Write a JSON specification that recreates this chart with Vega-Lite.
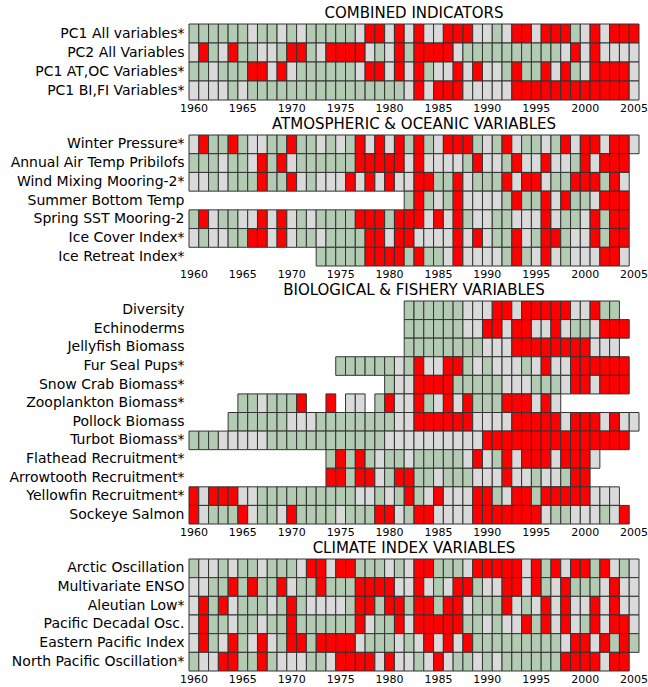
{
"$schema":"https://vega.github.io/schema/vega-lite/v6.json",
"padding":{"left":8,"top":5,"right":0,"bottom":0},
"spacing":3,
"config":{"view":{"stroke":null},"font":"DejaVu Sans",
"axis":{"domain":false,"ticks":false,"grid":false,"title":null,"labelColor":"#000","labelFont":"DejaVu Sans"},
"axisX":{"labelAngle":0,"labelFontSize":11,"labelPadding":2},
"axisY":{"labelFontSize":14,"labelPadding":5},
"title":{"font":"DejaVu Sans","fontSize":15,"fontWeight":"normal","color":"#000","offset":3}},
"datasets":{
"p1":[
{"v":"PC1 All variables*","y":1960,"c":"G"},{"v":"PC1 All variables*","y":1961,"c":"G"},{"v":"PC1 All variables*","y":1962,"c":"G"},{"v":"PC1 All variables*","y":1963,"c":"G"},{"v":"PC1 All variables*","y":1964,"c":"G"},{"v":"PC1 All variables*","y":1965,"c":"G"},{"v":"PC1 All variables*","y":1966,"c":"L"},{"v":"PC1 All variables*","y":1967,"c":"G"},{"v":"PC1 All variables*","y":1968,"c":"G"},{"v":"PC1 All variables*","y":1969,"c":"L"},
{"v":"PC1 All variables*","y":1970,"c":"G"},{"v":"PC1 All variables*","y":1971,"c":"L"},{"v":"PC1 All variables*","y":1972,"c":"G"},{"v":"PC1 All variables*","y":1973,"c":"G"},{"v":"PC1 All variables*","y":1974,"c":"G"},{"v":"PC1 All variables*","y":1975,"c":"G"},{"v":"PC1 All variables*","y":1976,"c":"G"},{"v":"PC1 All variables*","y":1977,"c":"L"},{"v":"PC1 All variables*","y":1978,"c":"R"},{"v":"PC1 All variables*","y":1979,"c":"R"},
{"v":"PC1 All variables*","y":1980,"c":"L"},{"v":"PC1 All variables*","y":1981,"c":"R"},{"v":"PC1 All variables*","y":1982,"c":"L"},{"v":"PC1 All variables*","y":1983,"c":"R"},{"v":"PC1 All variables*","y":1984,"c":"L"},{"v":"PC1 All variables*","y":1985,"c":"L"},{"v":"PC1 All variables*","y":1986,"c":"R"},{"v":"PC1 All variables*","y":1987,"c":"R"},{"v":"PC1 All variables*","y":1988,"c":"R"},{"v":"PC1 All variables*","y":1989,"c":"L"},
{"v":"PC1 All variables*","y":1990,"c":"L"},{"v":"PC1 All variables*","y":1991,"c":"G"},{"v":"PC1 All variables*","y":1992,"c":"L"},{"v":"PC1 All variables*","y":1993,"c":"R"},{"v":"PC1 All variables*","y":1994,"c":"R"},{"v":"PC1 All variables*","y":1995,"c":"L"},{"v":"PC1 All variables*","y":1996,"c":"R"},{"v":"PC1 All variables*","y":1997,"c":"R"},{"v":"PC1 All variables*","y":1998,"c":"R"},{"v":"PC1 All variables*","y":1999,"c":"G"},
{"v":"PC1 All variables*","y":2000,"c":"L"},{"v":"PC1 All variables*","y":2001,"c":"R"},{"v":"PC1 All variables*","y":2002,"c":"L"},{"v":"PC1 All variables*","y":2003,"c":"R"},{"v":"PC1 All variables*","y":2004,"c":"R"},{"v":"PC1 All variables*","y":2005,"c":"R"},
{"v":"PC2 All Variables","y":1960,"c":"L"},{"v":"PC2 All Variables","y":1961,"c":"R"},{"v":"PC2 All Variables","y":1962,"c":"G"},{"v":"PC2 All Variables","y":1963,"c":"L"},{"v":"PC2 All Variables","y":1964,"c":"R"},{"v":"PC2 All Variables","y":1965,"c":"G"},{"v":"PC2 All Variables","y":1966,"c":"G"},{"v":"PC2 All Variables","y":1967,"c":"L"},{"v":"PC2 All Variables","y":1968,"c":"L"},{"v":"PC2 All Variables","y":1969,"c":"G"},
{"v":"PC2 All Variables","y":1970,"c":"R"},{"v":"PC2 All Variables","y":1971,"c":"R"},{"v":"PC2 All Variables","y":1972,"c":"G"},{"v":"PC2 All Variables","y":1973,"c":"L"},{"v":"PC2 All Variables","y":1974,"c":"R"},{"v":"PC2 All Variables","y":1975,"c":"R"},{"v":"PC2 All Variables","y":1976,"c":"R"},{"v":"PC2 All Variables","y":1977,"c":"R"},{"v":"PC2 All Variables","y":1978,"c":"L"},{"v":"PC2 All Variables","y":1979,"c":"G"},
{"v":"PC2 All Variables","y":1980,"c":"L"},{"v":"PC2 All Variables","y":1981,"c":"R"},{"v":"PC2 All Variables","y":1982,"c":"G"},{"v":"PC2 All Variables","y":1983,"c":"R"},{"v":"PC2 All Variables","y":1984,"c":"R"},{"v":"PC2 All Variables","y":1985,"c":"R"},{"v":"PC2 All Variables","y":1986,"c":"R"},{"v":"PC2 All Variables","y":1987,"c":"L"},{"v":"PC2 All Variables","y":1988,"c":"G"},{"v":"PC2 All Variables","y":1989,"c":"G"},
{"v":"PC2 All Variables","y":1990,"c":"G"},{"v":"PC2 All Variables","y":1991,"c":"G"},{"v":"PC2 All Variables","y":1992,"c":"G"},{"v":"PC2 All Variables","y":1993,"c":"G"},{"v":"PC2 All Variables","y":1994,"c":"G"},{"v":"PC2 All Variables","y":1995,"c":"G"},{"v":"PC2 All Variables","y":1996,"c":"G"},{"v":"PC2 All Variables","y":1997,"c":"G"},{"v":"PC2 All Variables","y":1998,"c":"L"},{"v":"PC2 All Variables","y":1999,"c":"R"},
{"v":"PC2 All Variables","y":2000,"c":"L"},{"v":"PC2 All Variables","y":2001,"c":"R"},{"v":"PC2 All Variables","y":2002,"c":"L"},{"v":"PC2 All Variables","y":2003,"c":"L"},{"v":"PC2 All Variables","y":2004,"c":"L"},{"v":"PC2 All Variables","y":2005,"c":"L"},
{"v":"PC1 AT,OC Variables*","y":1960,"c":"G"},{"v":"PC1 AT,OC Variables*","y":1961,"c":"G"},{"v":"PC1 AT,OC Variables*","y":1962,"c":"L"},{"v":"PC1 AT,OC Variables*","y":1963,"c":"G"},{"v":"PC1 AT,OC Variables*","y":1964,"c":"G"},{"v":"PC1 AT,OC Variables*","y":1965,"c":"G"},{"v":"PC1 AT,OC Variables*","y":1966,"c":"R"},{"v":"PC1 AT,OC Variables*","y":1967,"c":"R"},{"v":"PC1 AT,OC Variables*","y":1968,"c":"L"},{"v":"PC1 AT,OC Variables*","y":1969,"c":"R"},
{"v":"PC1 AT,OC Variables*","y":1970,"c":"L"},{"v":"PC1 AT,OC Variables*","y":1971,"c":"G"},{"v":"PC1 AT,OC Variables*","y":1972,"c":"G"},{"v":"PC1 AT,OC Variables*","y":1973,"c":"G"},{"v":"PC1 AT,OC Variables*","y":1974,"c":"G"},{"v":"PC1 AT,OC Variables*","y":1975,"c":"G"},{"v":"PC1 AT,OC Variables*","y":1976,"c":"G"},{"v":"PC1 AT,OC Variables*","y":1977,"c":"L"},{"v":"PC1 AT,OC Variables*","y":1978,"c":"R"},{"v":"PC1 AT,OC Variables*","y":1979,"c":"R"},
{"v":"PC1 AT,OC Variables*","y":1980,"c":"L"},{"v":"PC1 AT,OC Variables*","y":1981,"c":"R"},{"v":"PC1 AT,OC Variables*","y":1982,"c":"L"},{"v":"PC1 AT,OC Variables*","y":1983,"c":"R"},{"v":"PC1 AT,OC Variables*","y":1984,"c":"G"},{"v":"PC1 AT,OC Variables*","y":1985,"c":"L"},{"v":"PC1 AT,OC Variables*","y":1986,"c":"L"},{"v":"PC1 AT,OC Variables*","y":1987,"c":"R"},{"v":"PC1 AT,OC Variables*","y":1988,"c":"L"},{"v":"PC1 AT,OC Variables*","y":1989,"c":"R"},
{"v":"PC1 AT,OC Variables*","y":1990,"c":"L"},{"v":"PC1 AT,OC Variables*","y":1991,"c":"L"},{"v":"PC1 AT,OC Variables*","y":1992,"c":"G"},{"v":"PC1 AT,OC Variables*","y":1993,"c":"R"},{"v":"PC1 AT,OC Variables*","y":1994,"c":"G"},{"v":"PC1 AT,OC Variables*","y":1995,"c":"G"},{"v":"PC1 AT,OC Variables*","y":1996,"c":"R"},{"v":"PC1 AT,OC Variables*","y":1997,"c":"L"},{"v":"PC1 AT,OC Variables*","y":1998,"c":"R"},{"v":"PC1 AT,OC Variables*","y":1999,"c":"G"},
{"v":"PC1 AT,OC Variables*","y":2000,"c":"L"},{"v":"PC1 AT,OC Variables*","y":2001,"c":"R"},{"v":"PC1 AT,OC Variables*","y":2002,"c":"R"},{"v":"PC1 AT,OC Variables*","y":2003,"c":"R"},{"v":"PC1 AT,OC Variables*","y":2004,"c":"R"},{"v":"PC1 AT,OC Variables*","y":2005,"c":"L"},
{"v":"PC1 BI,FI Variables*","y":1960,"c":"L"},{"v":"PC1 BI,FI Variables*","y":1961,"c":"L"},{"v":"PC1 BI,FI Variables*","y":1962,"c":"L"},{"v":"PC1 BI,FI Variables*","y":1963,"c":"L"},{"v":"PC1 BI,FI Variables*","y":1964,"c":"G"},{"v":"PC1 BI,FI Variables*","y":1965,"c":"L"},{"v":"PC1 BI,FI Variables*","y":1966,"c":"G"},{"v":"PC1 BI,FI Variables*","y":1967,"c":"G"},{"v":"PC1 BI,FI Variables*","y":1968,"c":"G"},{"v":"PC1 BI,FI Variables*","y":1969,"c":"G"},
{"v":"PC1 BI,FI Variables*","y":1970,"c":"G"},{"v":"PC1 BI,FI Variables*","y":1971,"c":"G"},{"v":"PC1 BI,FI Variables*","y":1972,"c":"G"},{"v":"PC1 BI,FI Variables*","y":1973,"c":"G"},{"v":"PC1 BI,FI Variables*","y":1974,"c":"G"},{"v":"PC1 BI,FI Variables*","y":1975,"c":"G"},{"v":"PC1 BI,FI Variables*","y":1976,"c":"G"},{"v":"PC1 BI,FI Variables*","y":1977,"c":"G"},{"v":"PC1 BI,FI Variables*","y":1978,"c":"G"},{"v":"PC1 BI,FI Variables*","y":1979,"c":"G"},
{"v":"PC1 BI,FI Variables*","y":1980,"c":"G"},{"v":"PC1 BI,FI Variables*","y":1981,"c":"G"},{"v":"PC1 BI,FI Variables*","y":1982,"c":"L"},{"v":"PC1 BI,FI Variables*","y":1983,"c":"R"},{"v":"PC1 BI,FI Variables*","y":1984,"c":"L"},{"v":"PC1 BI,FI Variables*","y":1985,"c":"R"},{"v":"PC1 BI,FI Variables*","y":1986,"c":"R"},{"v":"PC1 BI,FI Variables*","y":1987,"c":"R"},{"v":"PC1 BI,FI Variables*","y":1988,"c":"L"},{"v":"PC1 BI,FI Variables*","y":1989,"c":"L"},
{"v":"PC1 BI,FI Variables*","y":1990,"c":"L"},{"v":"PC1 BI,FI Variables*","y":1991,"c":"L"},{"v":"PC1 BI,FI Variables*","y":1992,"c":"L"},{"v":"PC1 BI,FI Variables*","y":1993,"c":"R"},{"v":"PC1 BI,FI Variables*","y":1994,"c":"R"},{"v":"PC1 BI,FI Variables*","y":1995,"c":"R"},{"v":"PC1 BI,FI Variables*","y":1996,"c":"R"},{"v":"PC1 BI,FI Variables*","y":1997,"c":"R"},{"v":"PC1 BI,FI Variables*","y":1998,"c":"R"},{"v":"PC1 BI,FI Variables*","y":1999,"c":"R"},
{"v":"PC1 BI,FI Variables*","y":2000,"c":"R"},{"v":"PC1 BI,FI Variables*","y":2001,"c":"R"},{"v":"PC1 BI,FI Variables*","y":2002,"c":"R"},{"v":"PC1 BI,FI Variables*","y":2003,"c":"R"},{"v":"PC1 BI,FI Variables*","y":2004,"c":"R"},{"v":"PC1 BI,FI Variables*","y":2005,"c":"L"}
],
"p2":[
{"v":"Winter Pressure*","y":1960,"c":"L"},{"v":"Winter Pressure*","y":1961,"c":"R"},{"v":"Winter Pressure*","y":1962,"c":"G"},{"v":"Winter Pressure*","y":1963,"c":"G"},{"v":"Winter Pressure*","y":1964,"c":"R"},{"v":"Winter Pressure*","y":1965,"c":"G"},{"v":"Winter Pressure*","y":1966,"c":"L"},{"v":"Winter Pressure*","y":1967,"c":"L"},{"v":"Winter Pressure*","y":1968,"c":"G"},{"v":"Winter Pressure*","y":1969,"c":"G"},
{"v":"Winter Pressure*","y":1970,"c":"R"},{"v":"Winter Pressure*","y":1971,"c":"G"},{"v":"Winter Pressure*","y":1972,"c":"G"},{"v":"Winter Pressure*","y":1973,"c":"L"},{"v":"Winter Pressure*","y":1974,"c":"G"},{"v":"Winter Pressure*","y":1975,"c":"L"},{"v":"Winter Pressure*","y":1976,"c":"G"},{"v":"Winter Pressure*","y":1977,"c":"R"},{"v":"Winter Pressure*","y":1978,"c":"L"},{"v":"Winter Pressure*","y":1979,"c":"R"},
{"v":"Winter Pressure*","y":1980,"c":"L"},{"v":"Winter Pressure*","y":1981,"c":"R"},{"v":"Winter Pressure*","y":1982,"c":"G"},{"v":"Winter Pressure*","y":1983,"c":"R"},{"v":"Winter Pressure*","y":1984,"c":"G"},{"v":"Winter Pressure*","y":1985,"c":"L"},{"v":"Winter Pressure*","y":1986,"c":"R"},{"v":"Winter Pressure*","y":1987,"c":"R"},{"v":"Winter Pressure*","y":1988,"c":"R"},{"v":"Winter Pressure*","y":1989,"c":"G"},
{"v":"Winter Pressure*","y":1990,"c":"L"},{"v":"Winter Pressure*","y":1991,"c":"G"},{"v":"Winter Pressure*","y":1992,"c":"R"},{"v":"Winter Pressure*","y":1993,"c":"L"},{"v":"Winter Pressure*","y":1994,"c":"G"},{"v":"Winter Pressure*","y":1995,"c":"G"},{"v":"Winter Pressure*","y":1996,"c":"L"},{"v":"Winter Pressure*","y":1997,"c":"G"},{"v":"Winter Pressure*","y":1998,"c":"R"},{"v":"Winter Pressure*","y":1999,"c":"L"},
{"v":"Winter Pressure*","y":2000,"c":"R"},{"v":"Winter Pressure*","y":2001,"c":"R"},{"v":"Winter Pressure*","y":2002,"c":"L"},{"v":"Winter Pressure*","y":2003,"c":"R"},{"v":"Winter Pressure*","y":2004,"c":"R"},{"v":"Winter Pressure*","y":2005,"c":"L"},
{"v":"Annual Air Temp Pribilofs","y":1960,"c":"G"},{"v":"Annual Air Temp Pribilofs","y":1961,"c":"G"},{"v":"Annual Air Temp Pribilofs","y":1962,"c":"G"},{"v":"Annual Air Temp Pribilofs","y":1963,"c":"L"},{"v":"Annual Air Temp Pribilofs","y":1964,"c":"G"},{"v":"Annual Air Temp Pribilofs","y":1965,"c":"G"},{"v":"Annual Air Temp Pribilofs","y":1966,"c":"L"},{"v":"Annual Air Temp Pribilofs","y":1967,"c":"R"},{"v":"Annual Air Temp Pribilofs","y":1968,"c":"G"},{"v":"Annual Air Temp Pribilofs","y":1969,"c":"R"},
{"v":"Annual Air Temp Pribilofs","y":1970,"c":"L"},{"v":"Annual Air Temp Pribilofs","y":1971,"c":"G"},{"v":"Annual Air Temp Pribilofs","y":1972,"c":"G"},{"v":"Annual Air Temp Pribilofs","y":1973,"c":"G"},{"v":"Annual Air Temp Pribilofs","y":1974,"c":"G"},{"v":"Annual Air Temp Pribilofs","y":1975,"c":"G"},{"v":"Annual Air Temp Pribilofs","y":1976,"c":"G"},{"v":"Annual Air Temp Pribilofs","y":1977,"c":"R"},{"v":"Annual Air Temp Pribilofs","y":1978,"c":"R"},{"v":"Annual Air Temp Pribilofs","y":1979,"c":"R"},
{"v":"Annual Air Temp Pribilofs","y":1980,"c":"R"},{"v":"Annual Air Temp Pribilofs","y":1981,"c":"R"},{"v":"Annual Air Temp Pribilofs","y":1982,"c":"L"},{"v":"Annual Air Temp Pribilofs","y":1983,"c":"R"},{"v":"Annual Air Temp Pribilofs","y":1984,"c":"L"},{"v":"Annual Air Temp Pribilofs","y":1985,"c":"L"},{"v":"Annual Air Temp Pribilofs","y":1986,"c":"L"},{"v":"Annual Air Temp Pribilofs","y":1987,"c":"L"},{"v":"Annual Air Temp Pribilofs","y":1988,"c":"G"},{"v":"Annual Air Temp Pribilofs","y":1989,"c":"R"},
{"v":"Annual Air Temp Pribilofs","y":1990,"c":"L"},{"v":"Annual Air Temp Pribilofs","y":1991,"c":"L"},{"v":"Annual Air Temp Pribilofs","y":1992,"c":"G"},{"v":"Annual Air Temp Pribilofs","y":1993,"c":"R"},{"v":"Annual Air Temp Pribilofs","y":1994,"c":"L"},{"v":"Annual Air Temp Pribilofs","y":1995,"c":"L"},{"v":"Annual Air Temp Pribilofs","y":1996,"c":"R"},{"v":"Annual Air Temp Pribilofs","y":1997,"c":"L"},{"v":"Annual Air Temp Pribilofs","y":1998,"c":"L"},{"v":"Annual Air Temp Pribilofs","y":1999,"c":"G"},
{"v":"Annual Air Temp Pribilofs","y":2000,"c":"R"},{"v":"Annual Air Temp Pribilofs","y":2001,"c":"L"},{"v":"Annual Air Temp Pribilofs","y":2002,"c":"R"},{"v":"Annual Air Temp Pribilofs","y":2003,"c":"R"},{"v":"Annual Air Temp Pribilofs","y":2004,"c":"R"},
{"v":"Wind Mixing Mooring-2*","y":1960,"c":"L"},{"v":"Wind Mixing Mooring-2*","y":1961,"c":"L"},{"v":"Wind Mixing Mooring-2*","y":1962,"c":"G"},{"v":"Wind Mixing Mooring-2*","y":1963,"c":"L"},{"v":"Wind Mixing Mooring-2*","y":1964,"c":"G"},{"v":"Wind Mixing Mooring-2*","y":1965,"c":"G"},{"v":"Wind Mixing Mooring-2*","y":1966,"c":"G"},{"v":"Wind Mixing Mooring-2*","y":1967,"c":"R"},{"v":"Wind Mixing Mooring-2*","y":1968,"c":"G"},{"v":"Wind Mixing Mooring-2*","y":1969,"c":"G"},
{"v":"Wind Mixing Mooring-2*","y":1970,"c":"R"},{"v":"Wind Mixing Mooring-2*","y":1971,"c":"L"},{"v":"Wind Mixing Mooring-2*","y":1972,"c":"G"},{"v":"Wind Mixing Mooring-2*","y":1973,"c":"L"},{"v":"Wind Mixing Mooring-2*","y":1974,"c":"L"},{"v":"Wind Mixing Mooring-2*","y":1975,"c":"L"},{"v":"Wind Mixing Mooring-2*","y":1976,"c":"R"},{"v":"Wind Mixing Mooring-2*","y":1977,"c":"L"},{"v":"Wind Mixing Mooring-2*","y":1978,"c":"R"},{"v":"Wind Mixing Mooring-2*","y":1979,"c":"L"},
{"v":"Wind Mixing Mooring-2*","y":1980,"c":"R"},{"v":"Wind Mixing Mooring-2*","y":1981,"c":"L"},{"v":"Wind Mixing Mooring-2*","y":1982,"c":"L"},{"v":"Wind Mixing Mooring-2*","y":1983,"c":"R"},{"v":"Wind Mixing Mooring-2*","y":1984,"c":"R"},{"v":"Wind Mixing Mooring-2*","y":1985,"c":"G"},{"v":"Wind Mixing Mooring-2*","y":1986,"c":"G"},{"v":"Wind Mixing Mooring-2*","y":1987,"c":"R"},{"v":"Wind Mixing Mooring-2*","y":1988,"c":"L"},{"v":"Wind Mixing Mooring-2*","y":1989,"c":"G"},
{"v":"Wind Mixing Mooring-2*","y":1990,"c":"G"},{"v":"Wind Mixing Mooring-2*","y":1991,"c":"G"},{"v":"Wind Mixing Mooring-2*","y":1992,"c":"R"},{"v":"Wind Mixing Mooring-2*","y":1993,"c":"L"},{"v":"Wind Mixing Mooring-2*","y":1994,"c":"R"},{"v":"Wind Mixing Mooring-2*","y":1995,"c":"R"},{"v":"Wind Mixing Mooring-2*","y":1996,"c":"L"},{"v":"Wind Mixing Mooring-2*","y":1997,"c":"G"},{"v":"Wind Mixing Mooring-2*","y":1998,"c":"G"},{"v":"Wind Mixing Mooring-2*","y":1999,"c":"R"},
{"v":"Wind Mixing Mooring-2*","y":2000,"c":"R"},{"v":"Wind Mixing Mooring-2*","y":2001,"c":"R"},{"v":"Wind Mixing Mooring-2*","y":2002,"c":"G"},{"v":"Wind Mixing Mooring-2*","y":2003,"c":"R"},{"v":"Wind Mixing Mooring-2*","y":2004,"c":"L"},
{"v":"Summer Bottom Temp","y":1982,"c":"G"},{"v":"Summer Bottom Temp","y":1983,"c":"R"},{"v":"Summer Bottom Temp","y":1984,"c":"G"},{"v":"Summer Bottom Temp","y":1985,"c":"L"},{"v":"Summer Bottom Temp","y":1986,"c":"G"},{"v":"Summer Bottom Temp","y":1987,"c":"R"},{"v":"Summer Bottom Temp","y":1988,"c":"L"},{"v":"Summer Bottom Temp","y":1989,"c":"L"},
{"v":"Summer Bottom Temp","y":1990,"c":"L"},{"v":"Summer Bottom Temp","y":1991,"c":"L"},{"v":"Summer Bottom Temp","y":1992,"c":"G"},{"v":"Summer Bottom Temp","y":1993,"c":"R"},{"v":"Summer Bottom Temp","y":1994,"c":"G"},{"v":"Summer Bottom Temp","y":1995,"c":"G"},{"v":"Summer Bottom Temp","y":1996,"c":"R"},{"v":"Summer Bottom Temp","y":1997,"c":"L"},{"v":"Summer Bottom Temp","y":1998,"c":"R"},{"v":"Summer Bottom Temp","y":1999,"c":"G"},
{"v":"Summer Bottom Temp","y":2000,"c":"G"},{"v":"Summer Bottom Temp","y":2001,"c":"L"},{"v":"Summer Bottom Temp","y":2002,"c":"R"},{"v":"Summer Bottom Temp","y":2003,"c":"R"},{"v":"Summer Bottom Temp","y":2004,"c":"R"},
{"v":"Spring SST Mooring-2","y":1960,"c":"G"},{"v":"Spring SST Mooring-2","y":1961,"c":"R"},{"v":"Spring SST Mooring-2","y":1962,"c":"L"},{"v":"Spring SST Mooring-2","y":1963,"c":"G"},{"v":"Spring SST Mooring-2","y":1964,"c":"G"},{"v":"Spring SST Mooring-2","y":1965,"c":"L"},{"v":"Spring SST Mooring-2","y":1966,"c":"L"},{"v":"Spring SST Mooring-2","y":1967,"c":"R"},{"v":"Spring SST Mooring-2","y":1968,"c":"L"},{"v":"Spring SST Mooring-2","y":1969,"c":"R"},
{"v":"Spring SST Mooring-2","y":1970,"c":"L"},{"v":"Spring SST Mooring-2","y":1971,"c":"G"},{"v":"Spring SST Mooring-2","y":1972,"c":"L"},{"v":"Spring SST Mooring-2","y":1973,"c":"G"},{"v":"Spring SST Mooring-2","y":1974,"c":"G"},{"v":"Spring SST Mooring-2","y":1975,"c":"G"},{"v":"Spring SST Mooring-2","y":1976,"c":"G"},{"v":"Spring SST Mooring-2","y":1977,"c":"R"},{"v":"Spring SST Mooring-2","y":1978,"c":"R"},{"v":"Spring SST Mooring-2","y":1979,"c":"R"},
{"v":"Spring SST Mooring-2","y":1980,"c":"G"},{"v":"Spring SST Mooring-2","y":1981,"c":"R"},{"v":"Spring SST Mooring-2","y":1982,"c":"R"},{"v":"Spring SST Mooring-2","y":1983,"c":"R"},{"v":"Spring SST Mooring-2","y":1984,"c":"L"},{"v":"Spring SST Mooring-2","y":1985,"c":"R"},{"v":"Spring SST Mooring-2","y":1986,"c":"L"},{"v":"Spring SST Mooring-2","y":1987,"c":"R"},{"v":"Spring SST Mooring-2","y":1988,"c":"G"},{"v":"Spring SST Mooring-2","y":1989,"c":"L"},
{"v":"Spring SST Mooring-2","y":1990,"c":"L"},{"v":"Spring SST Mooring-2","y":1991,"c":"G"},{"v":"Spring SST Mooring-2","y":1992,"c":"G"},{"v":"Spring SST Mooring-2","y":1993,"c":"L"},{"v":"Spring SST Mooring-2","y":1994,"c":"L"},{"v":"Spring SST Mooring-2","y":1995,"c":"L"},{"v":"Spring SST Mooring-2","y":1996,"c":"R"},{"v":"Spring SST Mooring-2","y":1997,"c":"L"},{"v":"Spring SST Mooring-2","y":1998,"c":"G"},{"v":"Spring SST Mooring-2","y":1999,"c":"G"},
{"v":"Spring SST Mooring-2","y":2000,"c":"L"},{"v":"Spring SST Mooring-2","y":2001,"c":"R"},{"v":"Spring SST Mooring-2","y":2002,"c":"G"},{"v":"Spring SST Mooring-2","y":2003,"c":"R"},{"v":"Spring SST Mooring-2","y":2004,"c":"R"},
{"v":"Ice Cover Index*","y":1960,"c":"L"},{"v":"Ice Cover Index*","y":1961,"c":"G"},{"v":"Ice Cover Index*","y":1962,"c":"L"},{"v":"Ice Cover Index*","y":1963,"c":"L"},{"v":"Ice Cover Index*","y":1964,"c":"G"},{"v":"Ice Cover Index*","y":1965,"c":"G"},{"v":"Ice Cover Index*","y":1966,"c":"R"},{"v":"Ice Cover Index*","y":1967,"c":"R"},{"v":"Ice Cover Index*","y":1968,"c":"L"},{"v":"Ice Cover Index*","y":1969,"c":"R"},
{"v":"Ice Cover Index*","y":1970,"c":"L"},{"v":"Ice Cover Index*","y":1971,"c":"G"},{"v":"Ice Cover Index*","y":1972,"c":"G"},{"v":"Ice Cover Index*","y":1973,"c":"L"},{"v":"Ice Cover Index*","y":1974,"c":"G"},{"v":"Ice Cover Index*","y":1975,"c":"G"},{"v":"Ice Cover Index*","y":1976,"c":"G"},{"v":"Ice Cover Index*","y":1977,"c":"G"},{"v":"Ice Cover Index*","y":1978,"c":"R"},{"v":"Ice Cover Index*","y":1979,"c":"R"},
{"v":"Ice Cover Index*","y":1980,"c":"L"},{"v":"Ice Cover Index*","y":1981,"c":"R"},{"v":"Ice Cover Index*","y":1982,"c":"R"},{"v":"Ice Cover Index*","y":1983,"c":"L"},{"v":"Ice Cover Index*","y":1984,"c":"L"},{"v":"Ice Cover Index*","y":1985,"c":"L"},{"v":"Ice Cover Index*","y":1986,"c":"L"},{"v":"Ice Cover Index*","y":1987,"c":"R"},{"v":"Ice Cover Index*","y":1988,"c":"L"},{"v":"Ice Cover Index*","y":1989,"c":"R"},
{"v":"Ice Cover Index*","y":1990,"c":"L"},{"v":"Ice Cover Index*","y":1991,"c":"G"},{"v":"Ice Cover Index*","y":1992,"c":"G"},{"v":"Ice Cover Index*","y":1993,"c":"R"},{"v":"Ice Cover Index*","y":1994,"c":"L"},{"v":"Ice Cover Index*","y":1995,"c":"G"},{"v":"Ice Cover Index*","y":1996,"c":"R"},{"v":"Ice Cover Index*","y":1997,"c":"R"},{"v":"Ice Cover Index*","y":1998,"c":"G"},{"v":"Ice Cover Index*","y":1999,"c":"L"},
{"v":"Ice Cover Index*","y":2000,"c":"L"},{"v":"Ice Cover Index*","y":2001,"c":"R"},{"v":"Ice Cover Index*","y":2002,"c":"G"},{"v":"Ice Cover Index*","y":2003,"c":"R"},{"v":"Ice Cover Index*","y":2004,"c":"R"},
{"v":"Ice Retreat Index*","y":1973,"c":"G"},{"v":"Ice Retreat Index*","y":1974,"c":"G"},{"v":"Ice Retreat Index*","y":1975,"c":"G"},{"v":"Ice Retreat Index*","y":1976,"c":"G"},{"v":"Ice Retreat Index*","y":1977,"c":"G"},{"v":"Ice Retreat Index*","y":1978,"c":"R"},{"v":"Ice Retreat Index*","y":1979,"c":"R"},
{"v":"Ice Retreat Index*","y":1980,"c":"R"},{"v":"Ice Retreat Index*","y":1981,"c":"R"},{"v":"Ice Retreat Index*","y":1982,"c":"G"},{"v":"Ice Retreat Index*","y":1983,"c":"R"},{"v":"Ice Retreat Index*","y":1984,"c":"G"},{"v":"Ice Retreat Index*","y":1985,"c":"G"},{"v":"Ice Retreat Index*","y":1986,"c":"L"},{"v":"Ice Retreat Index*","y":1987,"c":"R"},{"v":"Ice Retreat Index*","y":1988,"c":"L"},{"v":"Ice Retreat Index*","y":1989,"c":"L"},
{"v":"Ice Retreat Index*","y":1990,"c":"L"},{"v":"Ice Retreat Index*","y":1991,"c":"L"},{"v":"Ice Retreat Index*","y":1992,"c":"G"},{"v":"Ice Retreat Index*","y":1993,"c":"R"},{"v":"Ice Retreat Index*","y":1994,"c":"G"},{"v":"Ice Retreat Index*","y":1995,"c":"L"},{"v":"Ice Retreat Index*","y":1996,"c":"R"},{"v":"Ice Retreat Index*","y":1997,"c":"L"},{"v":"Ice Retreat Index*","y":1998,"c":"G"},{"v":"Ice Retreat Index*","y":1999,"c":"L"},
{"v":"Ice Retreat Index*","y":2000,"c":"L"},{"v":"Ice Retreat Index*","y":2001,"c":"L"},{"v":"Ice Retreat Index*","y":2002,"c":"R"},{"v":"Ice Retreat Index*","y":2003,"c":"R"},{"v":"Ice Retreat Index*","y":2004,"c":"L"}
],
"p3":[
{"v":"Diversity","y":1982,"c":"G"},{"v":"Diversity","y":1983,"c":"G"},{"v":"Diversity","y":1984,"c":"G"},{"v":"Diversity","y":1985,"c":"G"},{"v":"Diversity","y":1986,"c":"G"},{"v":"Diversity","y":1987,"c":"G"},{"v":"Diversity","y":1988,"c":"L"},{"v":"Diversity","y":1989,"c":"L"},
{"v":"Diversity","y":1990,"c":"L"},{"v":"Diversity","y":1991,"c":"R"},{"v":"Diversity","y":1992,"c":"R"},{"v":"Diversity","y":1993,"c":"L"},{"v":"Diversity","y":1994,"c":"R"},{"v":"Diversity","y":1995,"c":"R"},{"v":"Diversity","y":1996,"c":"R"},{"v":"Diversity","y":1997,"c":"R"},{"v":"Diversity","y":1998,"c":"R"},{"v":"Diversity","y":1999,"c":"L"},
{"v":"Diversity","y":2000,"c":"L"},{"v":"Diversity","y":2001,"c":"R"},{"v":"Diversity","y":2002,"c":"G"},{"v":"Diversity","y":2003,"c":"G"},
{"v":"Echinoderms","y":1982,"c":"G"},{"v":"Echinoderms","y":1983,"c":"G"},{"v":"Echinoderms","y":1984,"c":"G"},{"v":"Echinoderms","y":1985,"c":"G"},{"v":"Echinoderms","y":1986,"c":"G"},{"v":"Echinoderms","y":1987,"c":"G"},{"v":"Echinoderms","y":1988,"c":"L"},{"v":"Echinoderms","y":1989,"c":"L"},
{"v":"Echinoderms","y":1990,"c":"R"},{"v":"Echinoderms","y":1991,"c":"R"},{"v":"Echinoderms","y":1992,"c":"L"},{"v":"Echinoderms","y":1993,"c":"R"},{"v":"Echinoderms","y":1994,"c":"R"},{"v":"Echinoderms","y":1995,"c":"L"},{"v":"Echinoderms","y":1996,"c":"L"},{"v":"Echinoderms","y":1997,"c":"R"},{"v":"Echinoderms","y":1998,"c":"L"},{"v":"Echinoderms","y":1999,"c":"G"},
{"v":"Echinoderms","y":2000,"c":"G"},{"v":"Echinoderms","y":2001,"c":"L"},{"v":"Echinoderms","y":2002,"c":"R"},{"v":"Echinoderms","y":2003,"c":"R"},{"v":"Echinoderms","y":2004,"c":"R"},
{"v":"Jellyfish Biomass","y":1982,"c":"G"},{"v":"Jellyfish Biomass","y":1983,"c":"G"},{"v":"Jellyfish Biomass","y":1984,"c":"G"},{"v":"Jellyfish Biomass","y":1985,"c":"G"},{"v":"Jellyfish Biomass","y":1986,"c":"G"},{"v":"Jellyfish Biomass","y":1987,"c":"G"},{"v":"Jellyfish Biomass","y":1988,"c":"G"},{"v":"Jellyfish Biomass","y":1989,"c":"G"},
{"v":"Jellyfish Biomass","y":1990,"c":"L"},{"v":"Jellyfish Biomass","y":1991,"c":"L"},{"v":"Jellyfish Biomass","y":1992,"c":"L"},{"v":"Jellyfish Biomass","y":1993,"c":"R"},{"v":"Jellyfish Biomass","y":1994,"c":"R"},{"v":"Jellyfish Biomass","y":1995,"c":"R"},{"v":"Jellyfish Biomass","y":1996,"c":"R"},{"v":"Jellyfish Biomass","y":1997,"c":"R"},{"v":"Jellyfish Biomass","y":1998,"c":"R"},{"v":"Jellyfish Biomass","y":1999,"c":"R"},
{"v":"Jellyfish Biomass","y":2000,"c":"R"},{"v":"Jellyfish Biomass","y":2001,"c":"L"},{"v":"Jellyfish Biomass","y":2002,"c":"L"},{"v":"Jellyfish Biomass","y":2003,"c":"L"},
{"v":"Fur Seal Pups*","y":1975,"c":"G"},{"v":"Fur Seal Pups*","y":1976,"c":"G"},{"v":"Fur Seal Pups*","y":1977,"c":"G"},{"v":"Fur Seal Pups*","y":1978,"c":"G"},{"v":"Fur Seal Pups*","y":1979,"c":"G"},
{"v":"Fur Seal Pups*","y":1980,"c":"G"},{"v":"Fur Seal Pups*","y":1981,"c":"L"},{"v":"Fur Seal Pups*","y":1982,"c":"G"},{"v":"Fur Seal Pups*","y":1983,"c":"R"},{"v":"Fur Seal Pups*","y":1984,"c":"L"},{"v":"Fur Seal Pups*","y":1985,"c":"L"},{"v":"Fur Seal Pups*","y":1986,"c":"R"},{"v":"Fur Seal Pups*","y":1987,"c":"R"},{"v":"Fur Seal Pups*","y":1988,"c":"G"},{"v":"Fur Seal Pups*","y":1989,"c":"L"},
{"v":"Fur Seal Pups*","y":1990,"c":"G"},{"v":"Fur Seal Pups*","y":1991,"c":"L"},{"v":"Fur Seal Pups*","y":1992,"c":"L"},{"v":"Fur Seal Pups*","y":1993,"c":"L"},{"v":"Fur Seal Pups*","y":1994,"c":"G"},{"v":"Fur Seal Pups*","y":1995,"c":"L"},{"v":"Fur Seal Pups*","y":1996,"c":"R"},{"v":"Fur Seal Pups*","y":1997,"c":"L"},{"v":"Fur Seal Pups*","y":1998,"c":"L"},{"v":"Fur Seal Pups*","y":1999,"c":"R"},
{"v":"Fur Seal Pups*","y":2000,"c":"R"},{"v":"Fur Seal Pups*","y":2001,"c":"R"},{"v":"Fur Seal Pups*","y":2002,"c":"R"},{"v":"Fur Seal Pups*","y":2003,"c":"R"},{"v":"Fur Seal Pups*","y":2004,"c":"R"},
{"v":"Snow Crab Biomass*","y":1980,"c":"G"},{"v":"Snow Crab Biomass*","y":1981,"c":"L"},{"v":"Snow Crab Biomass*","y":1982,"c":"L"},{"v":"Snow Crab Biomass*","y":1983,"c":"R"},{"v":"Snow Crab Biomass*","y":1984,"c":"R"},{"v":"Snow Crab Biomass*","y":1985,"c":"R"},{"v":"Snow Crab Biomass*","y":1986,"c":"R"},{"v":"Snow Crab Biomass*","y":1987,"c":"G"},{"v":"Snow Crab Biomass*","y":1988,"c":"G"},{"v":"Snow Crab Biomass*","y":1989,"c":"G"},
{"v":"Snow Crab Biomass*","y":1990,"c":"G"},{"v":"Snow Crab Biomass*","y":1991,"c":"G"},{"v":"Snow Crab Biomass*","y":1992,"c":"L"},{"v":"Snow Crab Biomass*","y":1993,"c":"L"},{"v":"Snow Crab Biomass*","y":1994,"c":"L"},{"v":"Snow Crab Biomass*","y":1995,"c":"G"},{"v":"Snow Crab Biomass*","y":1996,"c":"G"},{"v":"Snow Crab Biomass*","y":1997,"c":"G"},{"v":"Snow Crab Biomass*","y":1998,"c":"L"},{"v":"Snow Crab Biomass*","y":1999,"c":"R"},
{"v":"Snow Crab Biomass*","y":2000,"c":"R"},{"v":"Snow Crab Biomass*","y":2001,"c":"L"},{"v":"Snow Crab Biomass*","y":2002,"c":"R"},{"v":"Snow Crab Biomass*","y":2003,"c":"R"},{"v":"Snow Crab Biomass*","y":2004,"c":"R"},
{"v":"Zooplankton Biomass*","y":1965,"c":"G"},{"v":"Zooplankton Biomass*","y":1966,"c":"G"},{"v":"Zooplankton Biomass*","y":1967,"c":"L"},{"v":"Zooplankton Biomass*","y":1968,"c":"G"},{"v":"Zooplankton Biomass*","y":1969,"c":"G"},{"v":"Zooplankton Biomass*","y":1970,"c":"G"},{"v":"Zooplankton Biomass*","y":1971,"c":"R"},{"v":"Zooplankton Biomass*","y":1974,"c":"R"},{"v":"Zooplankton Biomass*","y":1976,"c":"L"},{"v":"Zooplankton Biomass*","y":1977,"c":"L"},{"v":"Zooplankton Biomass*","y":1979,"c":"G"},
{"v":"Zooplankton Biomass*","y":1980,"c":"R"},{"v":"Zooplankton Biomass*","y":1981,"c":"L"},{"v":"Zooplankton Biomass*","y":1982,"c":"L"},{"v":"Zooplankton Biomass*","y":1983,"c":"R"},{"v":"Zooplankton Biomass*","y":1984,"c":"G"},{"v":"Zooplankton Biomass*","y":1985,"c":"L"},{"v":"Zooplankton Biomass*","y":1986,"c":"R"},{"v":"Zooplankton Biomass*","y":1987,"c":"L"},{"v":"Zooplankton Biomass*","y":1988,"c":"R"},{"v":"Zooplankton Biomass*","y":1989,"c":"G"},
{"v":"Zooplankton Biomass*","y":1990,"c":"G"},{"v":"Zooplankton Biomass*","y":1991,"c":"G"},{"v":"Zooplankton Biomass*","y":1992,"c":"R"},{"v":"Zooplankton Biomass*","y":1993,"c":"R"},{"v":"Zooplankton Biomass*","y":1994,"c":"R"},{"v":"Zooplankton Biomass*","y":1995,"c":"L"},{"v":"Zooplankton Biomass*","y":1996,"c":"R"},{"v":"Zooplankton Biomass*","y":1997,"c":"L"},
{"v":"Pollock Biomass","y":1964,"c":"G"},{"v":"Pollock Biomass","y":1965,"c":"G"},{"v":"Pollock Biomass","y":1966,"c":"G"},{"v":"Pollock Biomass","y":1967,"c":"G"},{"v":"Pollock Biomass","y":1968,"c":"G"},{"v":"Pollock Biomass","y":1969,"c":"G"},
{"v":"Pollock Biomass","y":1970,"c":"L"},{"v":"Pollock Biomass","y":1971,"c":"L"},{"v":"Pollock Biomass","y":1972,"c":"L"},{"v":"Pollock Biomass","y":1973,"c":"G"},{"v":"Pollock Biomass","y":1974,"c":"G"},{"v":"Pollock Biomass","y":1975,"c":"G"},{"v":"Pollock Biomass","y":1976,"c":"G"},{"v":"Pollock Biomass","y":1977,"c":"G"},{"v":"Pollock Biomass","y":1978,"c":"G"},{"v":"Pollock Biomass","y":1979,"c":"G"},
{"v":"Pollock Biomass","y":1980,"c":"G"},{"v":"Pollock Biomass","y":1981,"c":"L"},{"v":"Pollock Biomass","y":1982,"c":"L"},{"v":"Pollock Biomass","y":1983,"c":"R"},{"v":"Pollock Biomass","y":1984,"c":"R"},{"v":"Pollock Biomass","y":1985,"c":"R"},{"v":"Pollock Biomass","y":1986,"c":"R"},{"v":"Pollock Biomass","y":1987,"c":"R"},{"v":"Pollock Biomass","y":1988,"c":"R"},{"v":"Pollock Biomass","y":1989,"c":"L"},
{"v":"Pollock Biomass","y":1990,"c":"L"},{"v":"Pollock Biomass","y":1991,"c":"L"},{"v":"Pollock Biomass","y":1992,"c":"L"},{"v":"Pollock Biomass","y":1993,"c":"R"},{"v":"Pollock Biomass","y":1994,"c":"R"},{"v":"Pollock Biomass","y":1995,"c":"R"},{"v":"Pollock Biomass","y":1996,"c":"R"},{"v":"Pollock Biomass","y":1997,"c":"R"},{"v":"Pollock Biomass","y":1998,"c":"L"},{"v":"Pollock Biomass","y":1999,"c":"R"},
{"v":"Pollock Biomass","y":2000,"c":"R"},{"v":"Pollock Biomass","y":2001,"c":"R"},{"v":"Pollock Biomass","y":2002,"c":"L"},{"v":"Pollock Biomass","y":2003,"c":"R"},{"v":"Pollock Biomass","y":2004,"c":"L"},{"v":"Pollock Biomass","y":2005,"c":"L"},
{"v":"Turbot Biomass*","y":1960,"c":"G"},{"v":"Turbot Biomass*","y":1961,"c":"G"},{"v":"Turbot Biomass*","y":1962,"c":"G"},{"v":"Turbot Biomass*","y":1963,"c":"L"},{"v":"Turbot Biomass*","y":1964,"c":"L"},{"v":"Turbot Biomass*","y":1965,"c":"L"},{"v":"Turbot Biomass*","y":1966,"c":"L"},{"v":"Turbot Biomass*","y":1967,"c":"L"},{"v":"Turbot Biomass*","y":1968,"c":"G"},{"v":"Turbot Biomass*","y":1969,"c":"G"},
{"v":"Turbot Biomass*","y":1970,"c":"G"},{"v":"Turbot Biomass*","y":1971,"c":"G"},{"v":"Turbot Biomass*","y":1972,"c":"G"},{"v":"Turbot Biomass*","y":1973,"c":"G"},{"v":"Turbot Biomass*","y":1974,"c":"G"},{"v":"Turbot Biomass*","y":1975,"c":"G"},{"v":"Turbot Biomass*","y":1976,"c":"G"},{"v":"Turbot Biomass*","y":1977,"c":"G"},{"v":"Turbot Biomass*","y":1978,"c":"G"},{"v":"Turbot Biomass*","y":1979,"c":"G"},
{"v":"Turbot Biomass*","y":1980,"c":"L"},{"v":"Turbot Biomass*","y":1981,"c":"L"},{"v":"Turbot Biomass*","y":1982,"c":"L"},{"v":"Turbot Biomass*","y":1983,"c":"L"},{"v":"Turbot Biomass*","y":1984,"c":"L"},{"v":"Turbot Biomass*","y":1985,"c":"L"},{"v":"Turbot Biomass*","y":1986,"c":"L"},{"v":"Turbot Biomass*","y":1987,"c":"L"},{"v":"Turbot Biomass*","y":1988,"c":"L"},{"v":"Turbot Biomass*","y":1989,"c":"L"},
{"v":"Turbot Biomass*","y":1990,"c":"R"},{"v":"Turbot Biomass*","y":1991,"c":"R"},{"v":"Turbot Biomass*","y":1992,"c":"R"},{"v":"Turbot Biomass*","y":1993,"c":"R"},{"v":"Turbot Biomass*","y":1994,"c":"R"},{"v":"Turbot Biomass*","y":1995,"c":"R"},{"v":"Turbot Biomass*","y":1996,"c":"R"},{"v":"Turbot Biomass*","y":1997,"c":"R"},{"v":"Turbot Biomass*","y":1998,"c":"R"},{"v":"Turbot Biomass*","y":1999,"c":"R"},
{"v":"Turbot Biomass*","y":2000,"c":"R"},{"v":"Turbot Biomass*","y":2001,"c":"R"},{"v":"Turbot Biomass*","y":2002,"c":"R"},{"v":"Turbot Biomass*","y":2003,"c":"R"},{"v":"Turbot Biomass*","y":2004,"c":"R"},
{"v":"Flathead Recruitment*","y":1974,"c":"G"},{"v":"Flathead Recruitment*","y":1975,"c":"R"},{"v":"Flathead Recruitment*","y":1976,"c":"G"},{"v":"Flathead Recruitment*","y":1977,"c":"R"},{"v":"Flathead Recruitment*","y":1978,"c":"G"},{"v":"Flathead Recruitment*","y":1979,"c":"L"},
{"v":"Flathead Recruitment*","y":1980,"c":"G"},{"v":"Flathead Recruitment*","y":1981,"c":"G"},{"v":"Flathead Recruitment*","y":1982,"c":"L"},{"v":"Flathead Recruitment*","y":1983,"c":"G"},{"v":"Flathead Recruitment*","y":1984,"c":"G"},{"v":"Flathead Recruitment*","y":1985,"c":"G"},{"v":"Flathead Recruitment*","y":1986,"c":"G"},{"v":"Flathead Recruitment*","y":1987,"c":"G"},{"v":"Flathead Recruitment*","y":1988,"c":"L"},{"v":"Flathead Recruitment*","y":1989,"c":"R"},
{"v":"Flathead Recruitment*","y":1990,"c":"L"},{"v":"Flathead Recruitment*","y":1991,"c":"G"},{"v":"Flathead Recruitment*","y":1992,"c":"R"},{"v":"Flathead Recruitment*","y":1993,"c":"L"},{"v":"Flathead Recruitment*","y":1994,"c":"R"},{"v":"Flathead Recruitment*","y":1995,"c":"R"},{"v":"Flathead Recruitment*","y":1996,"c":"R"},{"v":"Flathead Recruitment*","y":1997,"c":"L"},{"v":"Flathead Recruitment*","y":1998,"c":"R"},{"v":"Flathead Recruitment*","y":1999,"c":"R"},
{"v":"Flathead Recruitment*","y":2000,"c":"R"},{"v":"Flathead Recruitment*","y":2001,"c":"L"},
{"v":"Arrowtooth Recruitment*","y":1974,"c":"R"},{"v":"Arrowtooth Recruitment*","y":1975,"c":"R"},{"v":"Arrowtooth Recruitment*","y":1976,"c":"G"},{"v":"Arrowtooth Recruitment*","y":1977,"c":"R"},{"v":"Arrowtooth Recruitment*","y":1978,"c":"R"},{"v":"Arrowtooth Recruitment*","y":1979,"c":"L"},
{"v":"Arrowtooth Recruitment*","y":1980,"c":"G"},{"v":"Arrowtooth Recruitment*","y":1981,"c":"R"},{"v":"Arrowtooth Recruitment*","y":1982,"c":"R"},{"v":"Arrowtooth Recruitment*","y":1983,"c":"G"},{"v":"Arrowtooth Recruitment*","y":1984,"c":"G"},{"v":"Arrowtooth Recruitment*","y":1985,"c":"L"},{"v":"Arrowtooth Recruitment*","y":1986,"c":"G"},{"v":"Arrowtooth Recruitment*","y":1987,"c":"G"},{"v":"Arrowtooth Recruitment*","y":1988,"c":"G"},{"v":"Arrowtooth Recruitment*","y":1989,"c":"L"},
{"v":"Arrowtooth Recruitment*","y":1990,"c":"L"},{"v":"Arrowtooth Recruitment*","y":1991,"c":"L"},{"v":"Arrowtooth Recruitment*","y":1992,"c":"R"},{"v":"Arrowtooth Recruitment*","y":1993,"c":"L"},{"v":"Arrowtooth Recruitment*","y":1994,"c":"L"},{"v":"Arrowtooth Recruitment*","y":1995,"c":"G"},{"v":"Arrowtooth Recruitment*","y":1996,"c":"L"},{"v":"Arrowtooth Recruitment*","y":1997,"c":"L"},{"v":"Arrowtooth Recruitment*","y":1998,"c":"G"},{"v":"Arrowtooth Recruitment*","y":1999,"c":"R"},
{"v":"Arrowtooth Recruitment*","y":2000,"c":"R"},
{"v":"Yellowfin Recruitment*","y":1960,"c":"R"},{"v":"Yellowfin Recruitment*","y":1961,"c":"L"},{"v":"Yellowfin Recruitment*","y":1962,"c":"R"},{"v":"Yellowfin Recruitment*","y":1963,"c":"R"},{"v":"Yellowfin Recruitment*","y":1964,"c":"R"},{"v":"Yellowfin Recruitment*","y":1965,"c":"L"},{"v":"Yellowfin Recruitment*","y":1966,"c":"L"},{"v":"Yellowfin Recruitment*","y":1967,"c":"G"},{"v":"Yellowfin Recruitment*","y":1968,"c":"G"},{"v":"Yellowfin Recruitment*","y":1969,"c":"G"},
{"v":"Yellowfin Recruitment*","y":1970,"c":"G"},{"v":"Yellowfin Recruitment*","y":1971,"c":"G"},{"v":"Yellowfin Recruitment*","y":1972,"c":"G"},{"v":"Yellowfin Recruitment*","y":1973,"c":"G"},{"v":"Yellowfin Recruitment*","y":1974,"c":"G"},{"v":"Yellowfin Recruitment*","y":1975,"c":"G"},{"v":"Yellowfin Recruitment*","y":1976,"c":"G"},{"v":"Yellowfin Recruitment*","y":1977,"c":"L"},{"v":"Yellowfin Recruitment*","y":1978,"c":"L"},{"v":"Yellowfin Recruitment*","y":1979,"c":"G"},
{"v":"Yellowfin Recruitment*","y":1980,"c":"L"},{"v":"Yellowfin Recruitment*","y":1981,"c":"G"},{"v":"Yellowfin Recruitment*","y":1982,"c":"R"},{"v":"Yellowfin Recruitment*","y":1983,"c":"G"},{"v":"Yellowfin Recruitment*","y":1984,"c":"L"},{"v":"Yellowfin Recruitment*","y":1985,"c":"R"},{"v":"Yellowfin Recruitment*","y":1986,"c":"L"},{"v":"Yellowfin Recruitment*","y":1987,"c":"L"},{"v":"Yellowfin Recruitment*","y":1988,"c":"L"},{"v":"Yellowfin Recruitment*","y":1989,"c":"R"},
{"v":"Yellowfin Recruitment*","y":1990,"c":"R"},{"v":"Yellowfin Recruitment*","y":1991,"c":"G"},{"v":"Yellowfin Recruitment*","y":1992,"c":"L"},{"v":"Yellowfin Recruitment*","y":1993,"c":"R"},{"v":"Yellowfin Recruitment*","y":1994,"c":"R"},{"v":"Yellowfin Recruitment*","y":1995,"c":"G"},{"v":"Yellowfin Recruitment*","y":1996,"c":"R"},{"v":"Yellowfin Recruitment*","y":1997,"c":"R"},{"v":"Yellowfin Recruitment*","y":1998,"c":"R"},{"v":"Yellowfin Recruitment*","y":1999,"c":"R"},
{"v":"Yellowfin Recruitment*","y":2000,"c":"R"},{"v":"Yellowfin Recruitment*","y":2001,"c":"L"},{"v":"Yellowfin Recruitment*","y":2002,"c":"L"},{"v":"Yellowfin Recruitment*","y":2003,"c":"L"},
{"v":"Sockeye Salmon","y":1960,"c":"R"},{"v":"Sockeye Salmon","y":1961,"c":"L"},{"v":"Sockeye Salmon","y":1962,"c":"G"},{"v":"Sockeye Salmon","y":1963,"c":"G"},{"v":"Sockeye Salmon","y":1964,"c":"G"},{"v":"Sockeye Salmon","y":1965,"c":"R"},{"v":"Sockeye Salmon","y":1966,"c":"L"},{"v":"Sockeye Salmon","y":1967,"c":"G"},{"v":"Sockeye Salmon","y":1968,"c":"G"},{"v":"Sockeye Salmon","y":1969,"c":"L"},
{"v":"Sockeye Salmon","y":1970,"c":"R"},{"v":"Sockeye Salmon","y":1971,"c":"G"},{"v":"Sockeye Salmon","y":1972,"c":"G"},{"v":"Sockeye Salmon","y":1973,"c":"G"},{"v":"Sockeye Salmon","y":1974,"c":"G"},{"v":"Sockeye Salmon","y":1975,"c":"L"},{"v":"Sockeye Salmon","y":1976,"c":"G"},{"v":"Sockeye Salmon","y":1977,"c":"G"},{"v":"Sockeye Salmon","y":1978,"c":"G"},{"v":"Sockeye Salmon","y":1979,"c":"R"},
{"v":"Sockeye Salmon","y":1980,"c":"R"},{"v":"Sockeye Salmon","y":1981,"c":"L"},{"v":"Sockeye Salmon","y":1982,"c":"G"},{"v":"Sockeye Salmon","y":1983,"c":"R"},{"v":"Sockeye Salmon","y":1984,"c":"R"},{"v":"Sockeye Salmon","y":1985,"c":"L"},{"v":"Sockeye Salmon","y":1986,"c":"L"},{"v":"Sockeye Salmon","y":1987,"c":"L"},{"v":"Sockeye Salmon","y":1988,"c":"L"},{"v":"Sockeye Salmon","y":1989,"c":"R"},
{"v":"Sockeye Salmon","y":1990,"c":"R"},{"v":"Sockeye Salmon","y":1991,"c":"R"},{"v":"Sockeye Salmon","y":1992,"c":"R"},{"v":"Sockeye Salmon","y":1993,"c":"R"},{"v":"Sockeye Salmon","y":1994,"c":"R"},{"v":"Sockeye Salmon","y":1995,"c":"R"},{"v":"Sockeye Salmon","y":1996,"c":"L"},{"v":"Sockeye Salmon","y":1997,"c":"G"},{"v":"Sockeye Salmon","y":1998,"c":"G"},{"v":"Sockeye Salmon","y":1999,"c":"L"},
{"v":"Sockeye Salmon","y":2000,"c":"L"},{"v":"Sockeye Salmon","y":2001,"c":"L"},{"v":"Sockeye Salmon","y":2002,"c":"G"},{"v":"Sockeye Salmon","y":2003,"c":"L"},{"v":"Sockeye Salmon","y":2004,"c":"R"}
],
"p4":[
{"v":"Arctic Oscillation","y":1960,"c":"G"},{"v":"Arctic Oscillation","y":1961,"c":"L"},{"v":"Arctic Oscillation","y":1962,"c":"L"},{"v":"Arctic Oscillation","y":1963,"c":"G"},{"v":"Arctic Oscillation","y":1964,"c":"L"},{"v":"Arctic Oscillation","y":1965,"c":"G"},{"v":"Arctic Oscillation","y":1966,"c":"G"},{"v":"Arctic Oscillation","y":1967,"c":"L"},{"v":"Arctic Oscillation","y":1968,"c":"G"},{"v":"Arctic Oscillation","y":1969,"c":"G"},
{"v":"Arctic Oscillation","y":1970,"c":"G"},{"v":"Arctic Oscillation","y":1971,"c":"L"},{"v":"Arctic Oscillation","y":1972,"c":"R"},{"v":"Arctic Oscillation","y":1973,"c":"R"},{"v":"Arctic Oscillation","y":1974,"c":"L"},{"v":"Arctic Oscillation","y":1975,"c":"R"},{"v":"Arctic Oscillation","y":1976,"c":"R"},{"v":"Arctic Oscillation","y":1977,"c":"G"},{"v":"Arctic Oscillation","y":1978,"c":"G"},{"v":"Arctic Oscillation","y":1979,"c":"G"},
{"v":"Arctic Oscillation","y":1980,"c":"L"},{"v":"Arctic Oscillation","y":1981,"c":"G"},{"v":"Arctic Oscillation","y":1982,"c":"L"},{"v":"Arctic Oscillation","y":1983,"c":"R"},{"v":"Arctic Oscillation","y":1984,"c":"R"},{"v":"Arctic Oscillation","y":1985,"c":"G"},{"v":"Arctic Oscillation","y":1986,"c":"G"},{"v":"Arctic Oscillation","y":1987,"c":"G"},{"v":"Arctic Oscillation","y":1988,"c":"L"},{"v":"Arctic Oscillation","y":1989,"c":"R"},
{"v":"Arctic Oscillation","y":1990,"c":"R"},{"v":"Arctic Oscillation","y":1991,"c":"R"},{"v":"Arctic Oscillation","y":1992,"c":"R"},{"v":"Arctic Oscillation","y":1993,"c":"R"},{"v":"Arctic Oscillation","y":1994,"c":"L"},{"v":"Arctic Oscillation","y":1995,"c":"R"},{"v":"Arctic Oscillation","y":1996,"c":"G"},{"v":"Arctic Oscillation","y":1997,"c":"R"},{"v":"Arctic Oscillation","y":1998,"c":"L"},{"v":"Arctic Oscillation","y":1999,"c":"R"},
{"v":"Arctic Oscillation","y":2000,"c":"R"},{"v":"Arctic Oscillation","y":2001,"c":"G"},{"v":"Arctic Oscillation","y":2002,"c":"R"},{"v":"Arctic Oscillation","y":2003,"c":"L"},{"v":"Arctic Oscillation","y":2004,"c":"G"},{"v":"Arctic Oscillation","y":2005,"c":"L"},
{"v":"Multivariate ENSO","y":1960,"c":"L"},{"v":"Multivariate ENSO","y":1961,"c":"L"},{"v":"Multivariate ENSO","y":1962,"c":"G"},{"v":"Multivariate ENSO","y":1963,"c":"G"},{"v":"Multivariate ENSO","y":1964,"c":"R"},{"v":"Multivariate ENSO","y":1965,"c":"G"},{"v":"Multivariate ENSO","y":1966,"c":"R"},{"v":"Multivariate ENSO","y":1967,"c":"G"},{"v":"Multivariate ENSO","y":1968,"c":"G"},{"v":"Multivariate ENSO","y":1969,"c":"R"},
{"v":"Multivariate ENSO","y":1970,"c":"L"},{"v":"Multivariate ENSO","y":1971,"c":"G"},{"v":"Multivariate ENSO","y":1972,"c":"G"},{"v":"Multivariate ENSO","y":1973,"c":"R"},{"v":"Multivariate ENSO","y":1974,"c":"G"},{"v":"Multivariate ENSO","y":1975,"c":"G"},{"v":"Multivariate ENSO","y":1976,"c":"G"},{"v":"Multivariate ENSO","y":1977,"c":"R"},{"v":"Multivariate ENSO","y":1978,"c":"R"},{"v":"Multivariate ENSO","y":1979,"c":"R"},
{"v":"Multivariate ENSO","y":1980,"c":"R"},{"v":"Multivariate ENSO","y":1981,"c":"L"},{"v":"Multivariate ENSO","y":1982,"c":"L"},{"v":"Multivariate ENSO","y":1983,"c":"R"},{"v":"Multivariate ENSO","y":1984,"c":"L"},{"v":"Multivariate ENSO","y":1985,"c":"G"},{"v":"Multivariate ENSO","y":1986,"c":"L"},{"v":"Multivariate ENSO","y":1987,"c":"R"},{"v":"Multivariate ENSO","y":1988,"c":"R"},{"v":"Multivariate ENSO","y":1989,"c":"G"},
{"v":"Multivariate ENSO","y":1990,"c":"L"},{"v":"Multivariate ENSO","y":1991,"c":"L"},{"v":"Multivariate ENSO","y":1992,"c":"R"},{"v":"Multivariate ENSO","y":1993,"c":"R"},{"v":"Multivariate ENSO","y":1994,"c":"L"},{"v":"Multivariate ENSO","y":1995,"c":"R"},{"v":"Multivariate ENSO","y":1996,"c":"G"},{"v":"Multivariate ENSO","y":1997,"c":"L"},{"v":"Multivariate ENSO","y":1998,"c":"R"},{"v":"Multivariate ENSO","y":1999,"c":"G"},
{"v":"Multivariate ENSO","y":2000,"c":"G"},{"v":"Multivariate ENSO","y":2001,"c":"G"},{"v":"Multivariate ENSO","y":2002,"c":"L"},{"v":"Multivariate ENSO","y":2003,"c":"R"},{"v":"Multivariate ENSO","y":2004,"c":"L"},{"v":"Multivariate ENSO","y":2005,"c":"L"},
{"v":"Aleutian Low*","y":1960,"c":"L"},{"v":"Aleutian Low*","y":1961,"c":"R"},{"v":"Aleutian Low*","y":1962,"c":"G"},{"v":"Aleutian Low*","y":1963,"c":"R"},{"v":"Aleutian Low*","y":1964,"c":"L"},{"v":"Aleutian Low*","y":1965,"c":"G"},{"v":"Aleutian Low*","y":1966,"c":"G"},{"v":"Aleutian Low*","y":1967,"c":"G"},{"v":"Aleutian Low*","y":1968,"c":"L"},{"v":"Aleutian Low*","y":1969,"c":"G"},
{"v":"Aleutian Low*","y":1970,"c":"R"},{"v":"Aleutian Low*","y":1971,"c":"G"},{"v":"Aleutian Low*","y":1972,"c":"L"},{"v":"Aleutian Low*","y":1973,"c":"L"},{"v":"Aleutian Low*","y":1974,"c":"L"},{"v":"Aleutian Low*","y":1975,"c":"L"},{"v":"Aleutian Low*","y":1976,"c":"G"},{"v":"Aleutian Low*","y":1977,"c":"R"},{"v":"Aleutian Low*","y":1978,"c":"R"},{"v":"Aleutian Low*","y":1979,"c":"G"},
{"v":"Aleutian Low*","y":1980,"c":"R"},{"v":"Aleutian Low*","y":1981,"c":"R"},{"v":"Aleutian Low*","y":1982,"c":"G"},{"v":"Aleutian Low*","y":1983,"c":"R"},{"v":"Aleutian Low*","y":1984,"c":"R"},{"v":"Aleutian Low*","y":1985,"c":"G"},{"v":"Aleutian Low*","y":1986,"c":"R"},{"v":"Aleutian Low*","y":1987,"c":"R"},{"v":"Aleutian Low*","y":1988,"c":"L"},{"v":"Aleutian Low*","y":1989,"c":"G"},
{"v":"Aleutian Low*","y":1990,"c":"G"},{"v":"Aleutian Low*","y":1991,"c":"G"},{"v":"Aleutian Low*","y":1992,"c":"R"},{"v":"Aleutian Low*","y":1993,"c":"L"},{"v":"Aleutian Low*","y":1994,"c":"G"},{"v":"Aleutian Low*","y":1995,"c":"L"},{"v":"Aleutian Low*","y":1996,"c":"R"},{"v":"Aleutian Low*","y":1997,"c":"L"},{"v":"Aleutian Low*","y":1998,"c":"R"},{"v":"Aleutian Low*","y":1999,"c":"L"},
{"v":"Aleutian Low*","y":2000,"c":"L"},{"v":"Aleutian Low*","y":2001,"c":"R"},{"v":"Aleutian Low*","y":2002,"c":"L"},{"v":"Aleutian Low*","y":2003,"c":"R"},{"v":"Aleutian Low*","y":2004,"c":"L"},{"v":"Aleutian Low*","y":2005,"c":"L"},
{"v":"Pacific Decadal Osc.","y":1960,"c":"L"},{"v":"Pacific Decadal Osc.","y":1961,"c":"R"},{"v":"Pacific Decadal Osc.","y":1962,"c":"G"},{"v":"Pacific Decadal Osc.","y":1963,"c":"G"},{"v":"Pacific Decadal Osc.","y":1964,"c":"L"},{"v":"Pacific Decadal Osc.","y":1965,"c":"G"},{"v":"Pacific Decadal Osc.","y":1966,"c":"G"},{"v":"Pacific Decadal Osc.","y":1967,"c":"L"},{"v":"Pacific Decadal Osc.","y":1968,"c":"G"},{"v":"Pacific Decadal Osc.","y":1969,"c":"G"},
{"v":"Pacific Decadal Osc.","y":1970,"c":"R"},{"v":"Pacific Decadal Osc.","y":1971,"c":"G"},{"v":"Pacific Decadal Osc.","y":1972,"c":"G"},{"v":"Pacific Decadal Osc.","y":1973,"c":"G"},{"v":"Pacific Decadal Osc.","y":1974,"c":"G"},{"v":"Pacific Decadal Osc.","y":1975,"c":"G"},{"v":"Pacific Decadal Osc.","y":1976,"c":"G"},{"v":"Pacific Decadal Osc.","y":1977,"c":"R"},{"v":"Pacific Decadal Osc.","y":1978,"c":"L"},{"v":"Pacific Decadal Osc.","y":1979,"c":"G"},
{"v":"Pacific Decadal Osc.","y":1980,"c":"G"},{"v":"Pacific Decadal Osc.","y":1981,"c":"R"},{"v":"Pacific Decadal Osc.","y":1982,"c":"L"},{"v":"Pacific Decadal Osc.","y":1983,"c":"R"},{"v":"Pacific Decadal Osc.","y":1984,"c":"R"},{"v":"Pacific Decadal Osc.","y":1985,"c":"R"},{"v":"Pacific Decadal Osc.","y":1986,"c":"R"},{"v":"Pacific Decadal Osc.","y":1987,"c":"R"},{"v":"Pacific Decadal Osc.","y":1988,"c":"G"},{"v":"Pacific Decadal Osc.","y":1989,"c":"G"},
{"v":"Pacific Decadal Osc.","y":1990,"c":"L"},{"v":"Pacific Decadal Osc.","y":1991,"c":"G"},{"v":"Pacific Decadal Osc.","y":1992,"c":"L"},{"v":"Pacific Decadal Osc.","y":1993,"c":"L"},{"v":"Pacific Decadal Osc.","y":1994,"c":"R"},{"v":"Pacific Decadal Osc.","y":1995,"c":"G"},{"v":"Pacific Decadal Osc.","y":1996,"c":"R"},{"v":"Pacific Decadal Osc.","y":1997,"c":"L"},{"v":"Pacific Decadal Osc.","y":1998,"c":"R"},{"v":"Pacific Decadal Osc.","y":1999,"c":"L"},
{"v":"Pacific Decadal Osc.","y":2000,"c":"G"},{"v":"Pacific Decadal Osc.","y":2001,"c":"R"},{"v":"Pacific Decadal Osc.","y":2002,"c":"L"},{"v":"Pacific Decadal Osc.","y":2003,"c":"R"},{"v":"Pacific Decadal Osc.","y":2004,"c":"R"},{"v":"Pacific Decadal Osc.","y":2005,"c":"L"},
{"v":"Eastern Pacific Index","y":1960,"c":"L"},{"v":"Eastern Pacific Index","y":1961,"c":"R"},{"v":"Eastern Pacific Index","y":1962,"c":"G"},{"v":"Eastern Pacific Index","y":1963,"c":"L"},{"v":"Eastern Pacific Index","y":1964,"c":"R"},{"v":"Eastern Pacific Index","y":1965,"c":"G"},{"v":"Eastern Pacific Index","y":1966,"c":"L"},{"v":"Eastern Pacific Index","y":1967,"c":"R"},{"v":"Eastern Pacific Index","y":1968,"c":"L"},{"v":"Eastern Pacific Index","y":1969,"c":"G"},
{"v":"Eastern Pacific Index","y":1970,"c":"R"},{"v":"Eastern Pacific Index","y":1971,"c":"R"},{"v":"Eastern Pacific Index","y":1972,"c":"G"},{"v":"Eastern Pacific Index","y":1973,"c":"R"},{"v":"Eastern Pacific Index","y":1974,"c":"R"},{"v":"Eastern Pacific Index","y":1975,"c":"R"},{"v":"Eastern Pacific Index","y":1976,"c":"R"},{"v":"Eastern Pacific Index","y":1977,"c":"L"},{"v":"Eastern Pacific Index","y":1978,"c":"G"},{"v":"Eastern Pacific Index","y":1979,"c":"G"},
{"v":"Eastern Pacific Index","y":1980,"c":"G"},{"v":"Eastern Pacific Index","y":1981,"c":"L"},{"v":"Eastern Pacific Index","y":1982,"c":"G"},{"v":"Eastern Pacific Index","y":1983,"c":"L"},{"v":"Eastern Pacific Index","y":1984,"c":"R"},{"v":"Eastern Pacific Index","y":1985,"c":"L"},{"v":"Eastern Pacific Index","y":1986,"c":"R"},{"v":"Eastern Pacific Index","y":1987,"c":"L"},{"v":"Eastern Pacific Index","y":1988,"c":"R"},{"v":"Eastern Pacific Index","y":1989,"c":"G"},
{"v":"Eastern Pacific Index","y":1990,"c":"G"},{"v":"Eastern Pacific Index","y":1991,"c":"G"},{"v":"Eastern Pacific Index","y":1992,"c":"G"},{"v":"Eastern Pacific Index","y":1993,"c":"G"},{"v":"Eastern Pacific Index","y":1994,"c":"G"},{"v":"Eastern Pacific Index","y":1995,"c":"G"},{"v":"Eastern Pacific Index","y":1996,"c":"G"},{"v":"Eastern Pacific Index","y":1997,"c":"G"},{"v":"Eastern Pacific Index","y":1998,"c":"L"},{"v":"Eastern Pacific Index","y":1999,"c":"R"},
{"v":"Eastern Pacific Index","y":2000,"c":"R"},{"v":"Eastern Pacific Index","y":2001,"c":"L"},{"v":"Eastern Pacific Index","y":2002,"c":"R"},{"v":"Eastern Pacific Index","y":2003,"c":"G"},{"v":"Eastern Pacific Index","y":2004,"c":"R"},{"v":"Eastern Pacific Index","y":2005,"c":"G"},
{"v":"North Pacific Oscillation*","y":1960,"c":"G"},{"v":"North Pacific Oscillation*","y":1961,"c":"L"},{"v":"North Pacific Oscillation*","y":1962,"c":"L"},{"v":"North Pacific Oscillation*","y":1963,"c":"R"},{"v":"North Pacific Oscillation*","y":1964,"c":"R"},{"v":"North Pacific Oscillation*","y":1965,"c":"G"},{"v":"North Pacific Oscillation*","y":1966,"c":"G"},{"v":"North Pacific Oscillation*","y":1967,"c":"R"},{"v":"North Pacific Oscillation*","y":1968,"c":"G"},{"v":"North Pacific Oscillation*","y":1969,"c":"L"},
{"v":"North Pacific Oscillation*","y":1970,"c":"L"},{"v":"North Pacific Oscillation*","y":1971,"c":"L"},{"v":"North Pacific Oscillation*","y":1972,"c":"G"},{"v":"North Pacific Oscillation*","y":1973,"c":"G"},{"v":"North Pacific Oscillation*","y":1974,"c":"L"},{"v":"North Pacific Oscillation*","y":1975,"c":"R"},{"v":"North Pacific Oscillation*","y":1976,"c":"R"},{"v":"North Pacific Oscillation*","y":1977,"c":"R"},{"v":"North Pacific Oscillation*","y":1978,"c":"R"},{"v":"North Pacific Oscillation*","y":1979,"c":"L"},
{"v":"North Pacific Oscillation*","y":1980,"c":"R"},{"v":"North Pacific Oscillation*","y":1981,"c":"L"},{"v":"North Pacific Oscillation*","y":1982,"c":"L"},{"v":"North Pacific Oscillation*","y":1983,"c":"G"},{"v":"North Pacific Oscillation*","y":1984,"c":"L"},{"v":"North Pacific Oscillation*","y":1985,"c":"R"},{"v":"North Pacific Oscillation*","y":1986,"c":"L"},{"v":"North Pacific Oscillation*","y":1987,"c":"G"},{"v":"North Pacific Oscillation*","y":1988,"c":"G"},{"v":"North Pacific Oscillation*","y":1989,"c":"L"},
{"v":"North Pacific Oscillation*","y":1990,"c":"G"},{"v":"North Pacific Oscillation*","y":1991,"c":"L"},{"v":"North Pacific Oscillation*","y":1992,"c":"G"},{"v":"North Pacific Oscillation*","y":1993,"c":"G"},{"v":"North Pacific Oscillation*","y":1994,"c":"G"},{"v":"North Pacific Oscillation*","y":1995,"c":"G"},{"v":"North Pacific Oscillation*","y":1996,"c":"G"},{"v":"North Pacific Oscillation*","y":1997,"c":"G"},{"v":"North Pacific Oscillation*","y":1998,"c":"R"},{"v":"North Pacific Oscillation*","y":1999,"c":"R"},
{"v":"North Pacific Oscillation*","y":2000,"c":"R"},{"v":"North Pacific Oscillation*","y":2001,"c":"R"},{"v":"North Pacific Oscillation*","y":2002,"c":"L"},{"v":"North Pacific Oscillation*","y":2003,"c":"R"},{"v":"North Pacific Oscillation*","y":2004,"c":"R"}
]
},
"vconcat":[
{"title":"COMBINED INDICATORS","width":450,"height":76,"data":{"name":"p1"},
"mark":{"type":"rect","stroke":"#333","strokeWidth":1},
"encoding":{
"x":{"field":"y","type":"ordinal","scale":{"domain":[1960,1961,1962,1963,1964,1965,1966,1967,1968,1969,1970,1971,1972,1973,1974,1975,1976,1977,1978,1979,1980,1981,1982,1983,1984,1985,1986,1987,1988,1989,1990,1991,1992,1993,1994,1995,1996,1997,1998,1999,2000,2001,2002,2003,2004,2005],"paddingInner":0,"paddingOuter":0},"axis":{"values":[1960,1965,1970,1975,1980,1985,1990,1995,2000,2005]}},
"y":{"field":"v","type":"nominal","sort":["PC1 All variables*","PC2 All Variables","PC1 AT,OC Variables*","PC1 BI,FI Variables*"],"scale":{"paddingInner":0,"paddingOuter":0}},
"color":{"field":"c","type":"nominal","scale":{"domain":["R","G","L"],"range":["#ff0000","#b3cbb3","#dadada"]},"legend":null}}},
{"title":"ATMOSPHERIC & OCEANIC VARIABLES","width":450,"height":131,"data":{"name":"p2"},
"mark":{"type":"rect","stroke":"#333","strokeWidth":1},
"encoding":{
"x":{"field":"y","type":"ordinal","scale":{"domain":[1960,1961,1962,1963,1964,1965,1966,1967,1968,1969,1970,1971,1972,1973,1974,1975,1976,1977,1978,1979,1980,1981,1982,1983,1984,1985,1986,1987,1988,1989,1990,1991,1992,1993,1994,1995,1996,1997,1998,1999,2000,2001,2002,2003,2004,2005],"paddingInner":0,"paddingOuter":0},"axis":{"values":[1960,1965,1970,1975,1980,1985,1990,1995,2000,2005]}},
"y":{"field":"v","type":"nominal","sort":["Winter Pressure*","Annual Air Temp Pribilofs","Wind Mixing Mooring-2*","Summer Bottom Temp","Spring SST Mooring-2","Ice Cover Index*","Ice Retreat Index*"],"scale":{"paddingInner":0,"paddingOuter":0}},
"color":{"field":"c","type":"nominal","scale":{"domain":["R","G","L"],"range":["#ff0000","#b3cbb3","#dadada"]},"legend":null}}},
{"title":"BIOLOGICAL & FISHERY VARIABLES","width":450,"height":223,"data":{"name":"p3"},
"mark":{"type":"rect","stroke":"#333","strokeWidth":1},
"encoding":{
"x":{"field":"y","type":"ordinal","scale":{"domain":[1960,1961,1962,1963,1964,1965,1966,1967,1968,1969,1970,1971,1972,1973,1974,1975,1976,1977,1978,1979,1980,1981,1982,1983,1984,1985,1986,1987,1988,1989,1990,1991,1992,1993,1994,1995,1996,1997,1998,1999,2000,2001,2002,2003,2004,2005],"paddingInner":0,"paddingOuter":0},"axis":{"values":[1960,1965,1970,1975,1980,1985,1990,1995,2000,2005]}},
"y":{"field":"v","type":"nominal","sort":["Diversity","Echinoderms","Jellyfish Biomass","Fur Seal Pups*","Snow Crab Biomass*","Zooplankton Biomass*","Pollock Biomass","Turbot Biomass*","Flathead Recruitment*","Arrowtooth Recruitment*","Yellowfin Recruitment*","Sockeye Salmon"],"scale":{"paddingInner":0,"paddingOuter":0}},
"color":{"field":"c","type":"nominal","scale":{"domain":["R","G","L"],"range":["#ff0000","#b3cbb3","#dadada"]},"legend":null}}},
{"title":"CLIMATE INDEX VARIABLES","width":450,"height":112,"data":{"name":"p4"},
"mark":{"type":"rect","stroke":"#333","strokeWidth":1},
"encoding":{
"x":{"field":"y","type":"ordinal","scale":{"domain":[1960,1961,1962,1963,1964,1965,1966,1967,1968,1969,1970,1971,1972,1973,1974,1975,1976,1977,1978,1979,1980,1981,1982,1983,1984,1985,1986,1987,1988,1989,1990,1991,1992,1993,1994,1995,1996,1997,1998,1999,2000,2001,2002,2003,2004,2005],"paddingInner":0,"paddingOuter":0},"axis":{"values":[1960,1965,1970,1975,1980,1985,1990,1995,2000,2005]}},
"y":{"field":"v","type":"nominal","sort":["Arctic Oscillation","Multivariate ENSO","Aleutian Low*","Pacific Decadal Osc.","Eastern Pacific Index","North Pacific Oscillation*"],"scale":{"paddingInner":0,"paddingOuter":0}},
"color":{"field":"c","type":"nominal","scale":{"domain":["R","G","L"],"range":["#ff0000","#b3cbb3","#dadada"]},"legend":null}}}
]
}
